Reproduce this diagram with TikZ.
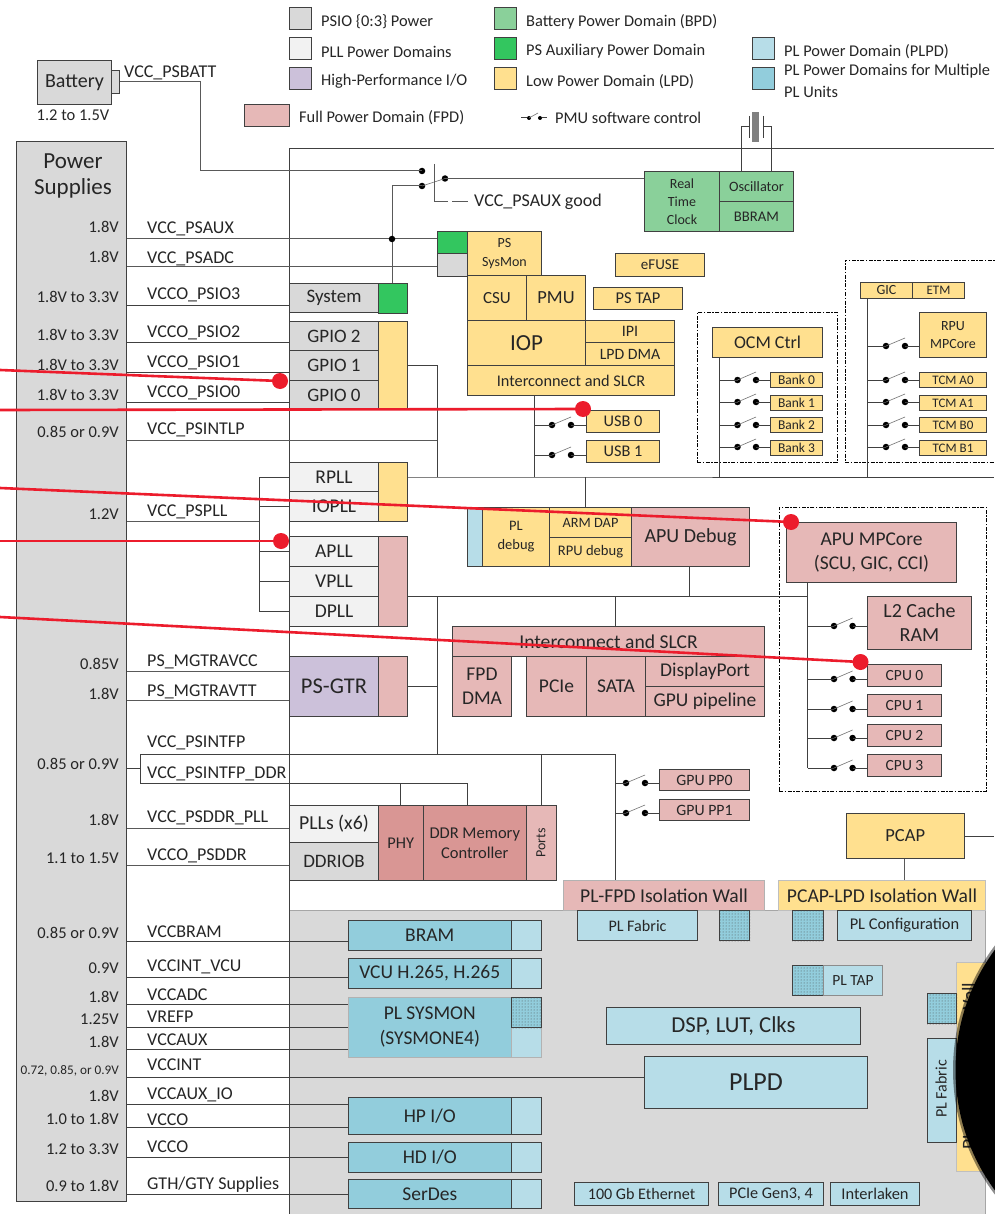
\documentclass[tikz,border=0pt]{standalone}
\usepackage{fontspec}
\setmainfont{Carlito}
\usetikzlibrary{patterns,calc}
\definecolor{gio}{HTML}{D9D9D9}
\definecolor{gpll}{HTML}{F2F2F2}
\definecolor{ghp}{HTML}{CCC1DA}
\definecolor{gfpd}{HTML}{E6B8B7}
\definecolor{gddr}{HTML}{D99694}
\definecolor{gbpd}{HTML}{8AD09A}
\definecolor{gaux}{HTML}{33C65F}
\definecolor{glpd}{HTML}{FFE08F}
\definecolor{gpl}{HTML}{B7DDE8}
\definecolor{gmul}{HTML}{92CDDC}
\definecolor{ink}{HTML}{262626}
\definecolor{wirec}{HTML}{404040}
\definecolor{redc}{HTML}{EC1C2C}
\tikzset{
  fs/.style 2 args={font=\fontsize{#1}{#2}\selectfont},
  bx/.style={draw=wirec,line width=1pt,inner sep=0pt,align=center,text=ink,anchor=north west},
  wire/.style={draw=wirec,line width=1pt},
  wireg/.style={draw=black!65,line width=1pt},
  lab/.style={inner sep=0pt,anchor=west,text=ink,font=\fontsize{#1}{#1}\selectfont},
  lab/.default=18,
  railname/.style={lab=18,yshift=-1.5pt},
  leg/.style={lab=16.4},
  vlt/.style={inner sep=0pt,anchor=east,text=ink,font=\fontsize{#1}{#1}\selectfont},
  vlt/.default=16.5,
  cdot/.style={circle,fill=black,inner sep=0pt,minimum size=6.5pt},
  lever/.style={draw=black!55,line width=0.6pt},
  dashbox/.style={draw=black,line width=0.8pt,dash pattern=on 4pt off 1.5pt on 1.5pt off 1.5pt},
  reddot/.style={circle,fill=redc,inner sep=0pt,minimum size=16pt},
  redline/.style={draw=redc,line width=2.6pt},
}
% name, style options, x, y, w, h, text
\newcommand\bb[7]{\node[bx,#2,minimum width=#5pt,minimum height=#6pt] (#1) at (#3,#4) {#7};}
% hatched box
\newcommand\hb[5]{\node[draw=wirec,line width=1pt,inner sep=0pt,anchor=north west,fill=gmul,minimum width=#4pt,minimum height=#5pt] (#1) at (#2,#3) {};
 \fill[pattern=dots,pattern color=black!70] (#1.north west) rectangle (#1.south east);}
% switch: name prefix, left-dot x, right-dot x, y
\newcommand\sw[4]{\node[cdot] (#1a) at (#2,#4) {}; \node[cdot] (#1b) at (#3,#4) {};
 \draw[lever] (#1a.center) -- ($(#1b.center)+(0,-8)$);}
% rail label: voltage y, voltage text, name y, name text
\newcommand\rl[4]{\node[vlt] at (119,#1) {#2}; \node[railname] at (147,#3) {#4};}
\begin{document}
\begin{tikzpicture}[x=1pt,y=-1pt]
\useasboundingbox (0,0) rectangle (994,1214);
\fill[white] (0,0) rectangle (994,1214);
% PL region
\node[draw=black!35,fill=gio,inner sep=0pt,anchor=north west,minimum width=696pt,minimum height=304pt,line width=1pt] (plreg) at (289,910) {};
% main frame
\coordinate (frameTL) at (289,149);
\coordinate (frameTR) at (994,149);
\coordinate (frameBL) at (289,1214);
\draw[wire] (frameBL) -- (frameTL) -- (frameTR);
% Legend
\bb{l1}{fill=gio}{289}{7}{22}{22}{}
\bb{l2}{fill=gpll}{289}{37}{22}{22}{}
\bb{l3}{fill=ghp}{289}{67}{22}{22}{}
\bb{l4}{fill=gfpd}{244}{104}{45}{22}{}
\bb{l5}{fill=gbpd}{494}{7}{22}{22}{}
\bb{l6}{fill=gaux}{494}{37}{22}{22}{}
\bb{l7}{fill=glpd}{494}{67}{22}{22}{}
\bb{l8}{fill=gpl}{752}{37}{22}{22}{}
\bb{l9}{fill=gmul}{752}{67}{22}{22}{}
\node[leg] at (321,21.5) {PSIO \{0:3\} Power};
\node[leg] at (321,51.5) {PLL Power Domains};
\node[leg] at (321,81.5) {High-Performance I/O};
\node[leg] at (299,118) {Full Power Domain (FPD)};
\node[leg] at (526,21.5) {Battery Power Domain (BPD)};
\node[leg] at (526,51.5) {PS Auxiliary Power Domain};
\node[leg] at (526,81.5) {Low Power Domain (LPD)};
\node[leg] at (555,118) {PMU software control};
\node[leg] at (784,51.5) {PL Power Domain (PLPD)};
\node[leg] at (784,71.5) {PL Power Domains for Multiple};
\node[leg] at (784,92) {PL Units};
% legend switch
\node[circle,fill=black,inner sep=0pt,minimum size=4pt] (lsa) at (529,118) {};
\node[circle,fill=black,inner sep=0pt,minimum size=4pt] (lsb) at (540,118) {};
\coordinate (lsl) at (521,118); \coordinate (lsr) at (547,118);
\draw[wire] (lsl) -- (lsa); \draw[wire] (lsb) -- (lsr);
\draw[lever] (lsa.center) -- (538,113);
% Battery
\bb{battcap}{fill=gio}{111}{70}{8}{23}{}
\bb{batt}{fill=gio,fs={20}{20}}{37}{60}{74}{44}{Battery}
\node[lab=16.5,anchor=center] at (73,115) {1.2 to 1.5V};
\node[railname] at (124,71) {VCC\_PSBATT};
% Power supplies
\node[bx,fill=gio,minimum width=110pt,minimum height=1060pt] (ps) at (16,141) {};
\node[lab=23,anchor=center] at (73,161) {Power};
\node[lab=23,anchor=center] at (73,188) {Supplies};
% Switch near RTC
\bb{rtc}{fill=gbpd,fs={14}{18}}{644}{171}{75}{60}{Real\\Time\\Clock}
\bb{osc}{fill=gbpd,fs={14.3}{14}}{719}{171}{74}{30}{Oscillator}
\bb{bbram}{fill=gbpd,fs={14.7}{14}}{719}{201}{74}{30}{BBRAM}
\node[cdot] (sa) at (422,171) {};
\node[cdot] (sb) at (422,186) {};
\node[cdot] (sc) at (445,178.5) {};
\draw[lever] (sb.center) -- (sc.center);
\draw[wireg] (battcap.east) -| (200,171) -- (sa.center);
\draw[wireg] (sc.center) -- (sc.center -| rtc.west);
\coordinate (ctl) at (434,164);
\coordinate (ctlb) at (434,201);
\coordinate (ctlm) at (448,201);
\coordinate (ctln) at (452,201);
\coordinate (ctle) at (468,201);
\draw[wireg,line width=0.9pt] (ctl) -- (ctlb) -- (ctlm);
\draw[wireg,line width=0.9pt] (ctln) -- (ctle);
\node[railname] at (474,200.5) {VCC\_PSAUX good};
% Crystal
\node[draw=none,fill=black!50,inner sep=0pt,minimum width=7pt,minimum height=30pt] (xtal) at (755.5,127) {};
\coordinate (xl) at (749,127); \coordinate (xr) at (763,127);
\draw[wire] (749,116) -- (749,138);
\draw[wire] (763,116) -- (763,138);
\draw[wire] (osc.north -| 741,0) -- (741,127) -- (xl);
\draw[wire] (osc.north -| 771,0) -- (771,127) -- (xr);
% SysMon
\bb{smg}{fill=gaux}{437}{231}{30}{22}{}
\bb{smb}{fill=gio}{437}{253}{30}{23}{}
\bb{sysmon}{fill=glpd,fs={14}{19}}{467}{231}{74}{44}{PS\\SysMon}
\bb{efuse}{fill=glpd,fs={15}{14}}{615}{253}{89}{23}{eFUSE}
\bb{pstap}{fill=glpd,fs={16.5}{14}}{593}{287}{89}{22}{PS TAP}
\bb{csu}{fill=glpd,fs={17}{16}}{467}{275}{59}{45}{CSU}
\bb{pmu}{fill=glpd,fs={18.5}{16}}{526}{275}{59}{45}{PMU}
\bb{iop}{fill=glpd,fs={23}{21}}{467}{320}{118}{45}{IOP}
\bb{ipi}{fill=glpd,fs={16}{15}}{585}{320}{89}{22}{IPI}
\bb{lpddma}{fill=glpd,fs={15.8}{15}}{585}{342}{89}{23}{LPD DMA}
\bb{ic}{fill=glpd,fs={16.3}{15}}{467}{365}{207}{30}{Interconnect and SLCR}
% System/GPIO
\bb{sys}{fill=gio,fs={19}{17}}{289}{283}{89}{29}{System}
\bb{sysg}{fill=gaux}{378}{283}{29}{30}{}
\bb{gpy}{fill=glpd}{378}{321}{29}{88}{}
\bb{gp2}{fill=gio,fs={19}{17}}{289}{321}{89}{29}{GPIO 2}
\bb{gp1}{fill=gio,fs={19}{17}}{289}{350}{89}{30}{GPIO 1}
\bb{gp0}{fill=gio,fs={19}{17}}{289}{380}{89}{29}{GPIO 0}
% PLLs
\bb{rp}{fill=gpll,fs={19.5}{17}}{289}{462}{89}{29}{RPLL}
\bb{iop2}{fill=gpll,fs={19.5}{17}}{289}{491}{89}{30}{IOPLL}
\bb{rpy}{fill=glpd}{378}{462}{29}{59}{}
\bb{ap}{fill=gpll,fs={19.5}{17}}{289}{536}{89}{30}{APLL}
\bb{vp}{fill=gpll,fs={19.5}{17}}{289}{566}{89}{30}{VPLL}
\bb{dp}{fill=gpll,fs={19.5}{17}}{289}{596}{89}{30}{DPLL}
\bb{apr}{fill=gfpd}{378}{536}{29}{90}{}
% USB
\bb{usb0}{fill=glpd,fs={16.3}{16}}{586}{410}{73}{22}{USB 0}
\bb{usb1}{fill=glpd,fs={16.3}{16}}{586}{440}{73}{22}{USB 1}
% OCM
\node[dashbox,minimum width=140pt,minimum height=150pt,inner sep=0pt,anchor=north west] (ocmd) at (697,312) {};
\bb{ocm}{fill=glpd,fs={18}{17}}{712}{327}{110}{30}{OCM Ctrl}
\bb{b0}{fill=glpd,fs={13.5}{13}}{770}{372}{52}{15}{Bank 0}
\bb{b1}{fill=glpd,fs={13.5}{13}}{770}{395}{52}{15}{Bank 1}
\bb{b2}{fill=glpd,fs={13.5}{13}}{770}{417}{52}{15}{Bank 2}
\bb{b3}{fill=glpd,fs={13.5}{13}}{770}{440}{52}{15}{Bank 3}
% RPU
\coordinate (rd1) at (845,260); \coordinate (rd2) at (1000,260); \coordinate (rd3) at (1000,462); \coordinate (rd4) at (845,462);
\draw[dashbox] (rd2) -- (rd1) -- (rd4) -- (rd3);
\bb{gic}{fill=glpd,fs={14}{13}}{860}{282}{52}{16}{GIC}
\bb{etm}{fill=glpd,fs={13}{13}}{912}{282}{52}{16}{ETM}
\bb{rpu}{fill=glpd,fs={14}{18}}{919}{312}{67}{45}{RPU\\MPCore}
\bb{ta0}{fill=glpd,fs={13}{13}}{919}{372}{67}{15}{TCM A0}
\bb{ta1}{fill=glpd,fs={13}{13}}{919}{395}{67}{15}{TCM A1}
\bb{tb0}{fill=glpd,fs={13}{13}}{919}{417}{67}{15}{TCM B0}
\bb{tb1}{fill=glpd,fs={13}{13}}{919}{440}{67}{15}{TCM B1}
% Debug
\bb{dbl}{fill=gpl}{467}{507}{15}{59}{}
\bb{pld}{fill=glpd,fs={14.5}{19}}{482}{507}{67}{59}{PL\\debug}
\bb{arm}{fill=glpd,fs={14.3}{14}}{549}{507}{82}{30}{ARM DAP}
\bb{rpud}{fill=glpd,fs={14.6}{14}}{549}{537}{82}{29}{RPU debug}
\bb{apud}{fill=gfpd,fs={20}{19}}{631}{507}{118}{59}{APU Debug}
% APU
\node[dashbox,minimum width=207pt,minimum height=284pt,inner sep=0pt,anchor=north west] (apud2) at (779,507) {};
\bb{apu}{fill=gfpd,fs={19.5}{24}}{786}{522}{170}{60}{APU MPCore\\(SCU, GIC, CCI)}
\bb{l2c}{fill=gfpd,fs={20}{24}}{867}{596}{104}{53}{L2 Cache\\RAM}
\bb{cpu0}{fill=gfpd,fs={15.5}{14}}{867}{664}{74}{22}{CPU 0}
\bb{cpu1}{fill=gfpd,fs={15.5}{14}}{867}{694}{74}{22}{CPU 1}
\bb{cpu2}{fill=gfpd,fs={15.5}{14}}{867}{724}{74}{22}{CPU 2}
\bb{cpu3}{fill=gfpd,fs={15.5}{14}}{867}{754}{74}{22}{CPU 3}
% FPD interconnect
\bb{fic}{fill=gfpd,fs={19.6}{17}}{452}{626}{312}{30}{Interconnect and SLCR}
\bb{fdma}{fill=gfpd,fs={19.5}{24}}{452}{656}{59}{60}{FPD\\DMA}
\bb{pcie}{fill=gfpd,fs={19.5}{18}}{526}{656}{60}{60}{PCIe}
\bb{sata}{fill=gfpd,fs={19.5}{18}}{586}{656}{59}{60}{SATA}
\bb{dispp}{fill=gfpd,fs={19.5}{18}}{645}{656}{119}{30}{DisplayPort}
\bb{gpup}{fill=gfpd,fs={19.5}{18}}{645}{686}{119}{30}{GPU pipeline}
% GTR
\bb{gtr}{fill=ghp,fs={22.5}{21}}{289}{656}{89}{60}{PS-GTR}
\bb{gtrr}{fill=gfpd}{378}{656}{29}{60}{}
% DDR
\bb{plls}{fill=gpll,fs={19.8}{17}}{289}{805}{89}{37}{PLLs (x6)}
\bb{ddrio}{fill=gio,fs={19}{17}}{289}{842}{89}{38}{DDRIOB}
\bb{phy}{fill=gddr,fs={16.4}{15}}{378}{805}{44.5}{75}{PHY}
\bb{ddrc}{fill=gddr,fs={16.5}{20}}{422.5}{805}{103.5}{75}{DDR Memory\\Controller}
\node[bx,fill=gfpd,minimum width=30pt,minimum height=75pt] (ports) at (526,805) {};
\node[rotate=90,inner sep=0pt,text=ink,font=\fontsize{14}{13}\selectfont] (portst) at (541,843) {Ports};
% GPU PP
\bb{pp0}{fill=gfpd,fs={15.8}{14}}{659}{769}{90}{21}{GPU PP0}
\bb{pp1}{fill=gfpd,fs={15.8}{14}}{659}{799}{90}{21}{GPU PP1}
% PCAP
\bb{pcap}{fill=glpd,fs={18.5}{18}}{845.5}{813}{118.5}{45}{PCAP}
% Walls
\node[bx,draw=black!30,fill=gfpd,minimum width=201pt,minimum height=30pt,fs={19.6}{18}] (wall1) at (563,880) {PL-FPD Isolation Wall};
\node[bx,draw=black!25,fill=glpd,minimum width=207pt,minimum height=30pt,fs={19.6}{18}] (wall2) at (778,880) {PCAP-LPD Isolation Wall};
% PL blocks
\newcommand\plb[4]{\bb{#1}{fill=gmul,fs={19.5}{17}}{347.5}{#2}{163.5}{#3}{#4}\bb{#1r}{fill=gpl}{511}{#2}{30}{#3}{}}
\plb{bram}{920}{30}{BRAM}
\plb{vcu}{958}{30}{VCU H.265, H.265}
\node[bx,draw=black!30,fill=gmul,minimum width=163.5pt,minimum height=60pt,fs={19.5}{25}] (sysm) at (347.5,997) {PL SYSMON\\(SYSMONE4)};
\node[bx,draw=black!30,fill=gpl,minimum width=30pt,minimum height=60pt] (sysmr) at (511,997) {};
\hb{sysmh}{511}{997}{30}{30}
\plb{hpio}{1097}{37}{HP I/O}
\plb{hdio}{1142}{30}{HD I/O}
\plb{serdes}{1179}{29}{SerDes}
\bb{plf}{fill=gpl,fs={16.1}{15}}{577}{910}{120}{30}{PL Fabric}
\hb{h1}{719}{910}{30}{30}
\hb{h2}{792}{910}{31}{30}
\bb{plc}{fill=gpl,fs={16.4}{15}}{837}{910}{134}{30}{PL Configuration}
\hb{h3}{792}{965}{31}{30}
\node[bx,draw=black!45,fill=gpl,minimum width=59pt,minimum height=30pt,fs={15.5}{15}] (pltap) at (823,965) {PL TAP};
\bb{dsp}{fill=gpl,fs={22.8}{21}}{606}{1007}{254}{37}{DSP, LUT, Clks}
\bb{plpd}{fill=gpl,fs={26}{24}}{644}{1056}{223}{52}{PLPD}
\bb{eth}{fill=gpl,fs={16.1}{15}}{574}{1182}{134}{23}{100 Gb Ethernet}
\bb{pg}{fill=gpl,fs={16.2}{15}}{718}{1182}{105}{23}{PCIe Gen3, 4}
\bb{il}{fill=gpl,fs={16.4}{15}}{830}{1182}{89}{23}{Interlaken}
\node[draw=black!25,fill=glpd,inner sep=0pt,minimum width=40pt,minimum height=209pt,anchor=north west] (wall3) at (956,962) {};
\node[rotate=90,inner sep=0pt,text=ink,font=\fontsize{19.6}{18}\selectfont] (wall3t) at (969,1066) {PL-LPD Isolation Wall};
\hb{h4}{927}{993}{29}{30}
\node[bx,fill=gpl,minimum width=29pt,minimum height=104pt] (plf2) at (927,1038) {};
\node[rotate=90,inner sep=0pt,text=ink,font=\fontsize{16}{15}\selectfont] (plf2t) at (941,1089) {PL Fabric};
% Wires: rails
\draw[wireg] (ps.east |- 0,239) -- (smg.west |- 0,239);
\draw[wireg] (ps.east |- 0,267) -- (smb.west |- 0,267);
\draw[wire] (ps.east |- 0,305) -- (sys.west |- 0,305);
\draw[wire] (ps.east |- 0,342) -- (gp2.west |- 0,342);
\draw[wire] (ps.east |- 0,372) -- (gp1.west |- 0,372);
\draw[wire] (ps.east |- 0,402) -- (gp0.west |- 0,402);
\coordinate (lpbus) at (437,477);
\draw[wireg] (ps.east |- 0,440) -- (lpbus |- 0,440);
\draw[wire] (gpy.east |- 0,365) -- (lpbus |- 0,365) -- (lpbus);
\draw[wire] (rpy.east |- 0,477) -- (lpbus) -- (994,477);
\draw[wireg] (sb.center) -- (392,186) -- (392,239);
\draw[wireg] (392,239) -- (sysg.north -| 392,0);
\node[cdot] (sj) at (392,239) {};
% PLL bus
\coordinate (pb) at (259,521);
\draw[wireg] (ps.east |- pb) -- (pb);
\draw[wire] (rp.west) -- (rp.west -| pb) -- (dp.west -| pb) -- (dp.west);
\draw[wire] (iop2.west) -- (iop2.west -| pb);
\draw[wire] (ap.west) -- (ap.west -| pb);
\draw[wire] (vp.west) -- (vp.west -| pb);
% LPD bus drops
\draw[wire] (ic.south -| 534,0) -- (534,477);
\draw[wire] (ocm.south -| 719,0) -- (719,477);
\draw[wire] (gic.south -| 867,0) -- (867,477);
\draw[wire] (arm.north -| 585,0) -- (585,477);
\sw{u0}{552}{571}{425}
\sw{u1}{552}{571}{455}
\draw[wire] (534,425) -- (u0a.center); \draw[wire] (u0b.center) -- (usb0.west |- u0b);
\draw[wire] (534,455) -- (u1a.center); \draw[wire] (u1b.center) -- (usb1.west |- u1b);
% banks / tcm
\foreach \n/\y in {b0/380,b1/402,b2/425,b3/447}{
 \sw{s\n}{737.5}{756}{\y}
 \draw[wire] (719,\y) -- (s\n a.center); \draw[wire] (s\n b.center) -- (\n.west |- s\n b);
}
\foreach \n/\y in {ta0/380,ta1/402,tb0/425,tb1/447,rpu/346}{
 \sw{s\n}{886}{905}{\y}
 \draw[wire] (867,\y) -- (s\n a.center); \draw[wire] (s\n b.center) -- (\n.west |- s\n b);
}
% FPD bus
\draw[wire] (apr.east |- 0,596) -- (807.5,596);
\draw[wire] (apud.south -| 689,0) -- (689,596);
\draw[wire] (fic.north -| 615.6,0) -- (615.6,596);
\draw[wire] (apu.south -| 807.5,0) -- (807.5,768);
\draw[wire] (437,596) -- (437,754);
\draw[wire] (gtrr.east |- 0,686) -- (437,686);
\foreach \n/\y in {l2c/626,cpu0/679,cpu1/709,cpu2/738,cpu3/768}{
 \sw{s\n}{834}{852.6}{\y}
 \draw[wire] (807.5,\y) -- (s\n a.center); \draw[wire] (s\n b.center) -- (\n.west |- s\n b);
}
% GTR rails
\draw[wireg] (ps.east |- 0,671) -- (gtr.west |- 0,671);
\draw[wireg] (ps.east |- 0,700) -- (gtr.west |- 0,700);
% PSINTFP
\coordinate (fp) at (140,768);
\draw[wire] (ps.east |- fp) -- (fp);
\draw[wire] (140,754) -- (140,783);
\draw[wire] (140,754) -- (615.6,754) -- (wall1.north -| 615.6,0);
\draw[wire] (140,783) -- (467,783) -- (ddrc.north -| 467,0);
\draw[wire] (400.7,783) -- (phy.north -| 400.7,0);
\draw[wire] (541,754) -- (ports.north -| 541,0);
\sw{p0}{626}{645}{783}
\sw{p1}{626}{645}{813}
\draw[wire] (615.6,783) -- (p0a.center); \draw[wire] (p0b.center) -- (pp0.west |- p0b);
\draw[wire] (615.6,813) -- (p1a.center); \draw[wire] (p1b.center) -- (pp1.west |- p1b);
\draw[wireg] (ps.east |- 0,828) -- (plls.west |- 0,828);
\draw[wireg] (ps.east |- 0,865) -- (ddrio.west |- 0,865);
\draw[wire] (pcap.east) -- (pcap.east -| 994,0);
\draw[wireg] (pcap.south -| 904,0) -- (wall2.north -| 904,0);
% PL rails
\draw[wire] (ps.east |- 0,941) -- (bram.west |- 0,941);
\draw[wire] (ps.east |- 0,977) -- (vcu.west |- 0,977);
\draw[wire] (ps.east |- 0,1004) -- (sysm.west |- 0,1004);
\draw[wire] (ps.east |- 0,1027) -- (sysm.west |- 0,1027);
\draw[wire] (ps.east |- 0,1049) -- (sysm.west |- 0,1049);
\draw[wire] (ps.east |- 0,1077) -- (plpd.west |- 0,1077);
\draw[wire] (ps.east |- 0,1104) -- (hpio.west |- 0,1104);
\draw[wire] (ps.east |- 0,1127) -- (hpio.west |- 0,1127);
\draw[wire] (ps.east |- 0,1157) -- (hdio.west |- 0,1157);
\draw[wire] (ps.east |- 0,1194) -- (serdes.west |- 0,1194);
% Rail labels
\rl{227}{1.8V}{227}{VCC\_PSAUX}
\rl{257}{1.8V}{257}{VCC\_PSADC}
\rl{297}{1.8V to 3.3V}{293}{VCCO\_PSIO3}
\rl{335}{1.8V to 3.3V}{331}{VCCO\_PSIO2}
\rl{365}{1.8V to 3.3V}{361}{VCCO\_PSIO1}
\rl{395}{1.8V to 3.3V}{391}{VCCO\_PSIO0}
\rl{432}{0.85 or 0.9V}{428}{VCC\_PSINTLP}
\rl{514}{1.2V}{510}{VCC\_PSPLL}
\rl{664}{0.85V}{660}{PS\_MGTRAVCC}
\rl{694}{1.8V}{690}{PS\_MGTRAVTT}
\node[railname] at (147,741) {VCC\_PSINTFP};
\rl{764}{0.85 or 0.9V}{772}{VCC\_PSINTFP\_DDR}
\rl{820}{1.8V}{816}{VCC\_PSDDR\_PLL}
\rl{858}{1.1 to 1.5V}{854}{VCCO\_PSDDR}
\rl{933}{0.85 or 0.9V}{930}{VCCBRAM}
\rl{968}{0.9V}{965}{VCCINT\_VCU}
\rl{997}{1.8V}{993}{VCCADC}
\rl{1019}{1.25V}{1015}{VREFP}
\rl{1042}{1.8V}{1038}{VCCAUX}
\node[vlt=13.2] at (119,1071) {0.72, 0.85, or 0.9V};
\node[railname] at (147,1063) {VCCINT};
\rl{1096}{1.8V}{1093}{VCCAUX\_IO}
\rl{1119}{1.0 to 1.8V}{1118}{VCCO}
\rl{1149}{1.2 to 3.3V}{1145}{VCCO}
\rl{1186}{0.9 to 1.8V}{1183}{GTH/GTY Supplies}
% black blob
\fill[black,opacity=0.45] (1159,1070) circle (206);
\fill[black] (1159,1070) circle (203.5);
% Red markers
\coordinate (r1s) at (0,370); \coordinate (r2s) at (0,410); \coordinate (r3s) at (0,488); \coordinate (r4s) at (0,541); \coordinate (r5s) at (0,617);
\node[reddot] (r1) at (280,381) {};
\node[reddot] (r2) at (583,409) {};
\node[reddot] (r3) at (791,522) {};
\node[reddot] (r4) at (281,541) {};
\node[reddot] (r5) at (860.5,662) {};
\draw[redline] (r1s) -- (r1.center);
\draw[redline] (r2s) -- (r2.center);
\draw[redline] (r3s) -- (r3.center);
\draw[redline] (r4s) -- (r4.center);
\draw[redline] (r5s) -- (r5.center);
\end{tikzpicture}
\end{document}
